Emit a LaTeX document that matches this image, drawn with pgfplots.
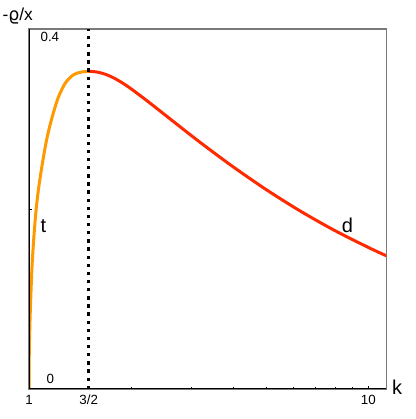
\documentclass[border=0pt]{standalone}
\usepackage{fontspec}
\setmainfont{Liberation Sans}
\newfontfamily\dejavu{DejaVu Sans}
\usepackage{pgfplots}
\pgfplotsset{compat=1.18}
\usetikzlibrary{calc}
\definecolor{curveorange}{HTML}{FF9900}
\definecolor{curvered}{HTML}{FF2A00}
\definecolor{framegray}{HTML}{7A7A7A}

\begin{document}
\begin{tikzpicture}
\begin{axis}[
    name=ax,
    xmode=log,
    scale only axis,
    width=268pt, height=270pt,
    xmin=1, xmax=11.3,
    ymin=0, ymax=0.4,
    axis line style={framegray, line width=0.9pt},
    tick align=inside,
    xtick pos=bottom, ytick pos=left,
    xtick={1,1.5,10},
    xticklabels={1,3/2,10},
    minor xtick={2,3,4,5,6,7,8,9},
    ytick={0.2}, yticklabels={},
    major tick length=2.5pt, minor tick length=1.6pt,
    tick style={black, line width=0.6pt},
    xticklabel style={font=\fontsize{10}{12}\selectfont, anchor=base, yshift=-12pt},
]
% t branch
\addplot[curveorange, line width=2.25pt, smooth] coordinates {
  (1,0) (1.001,0.029) (1.003,0.050) (1.007,0.077) (1.014,0.110)
  (1.022,0.140) (1.035,0.172) (1.05,0.200) (1.07,0.226) (1.10,0.255)
  (1.13,0.279) (1.17,0.302) (1.22,0.324) (1.28,0.340) (1.35,0.349)
  (1.42,0.352) (1.5,0.353)
};
% d branch
\addplot[curvered, line width=2.25pt, smooth] coordinates {
  (1.5,0.353) (1.585,0.3522) (1.679,0.3497) (1.778,0.3456) (1.884,0.3401)
  (1.995,0.3338) (2.239,0.3196) (2.512,0.3048) (3.162,0.2753)
  (3.981,0.2473) (5.012,0.2213) (6.310,0.1976) (7.943,0.1763)
  (10.0,0.1573) (11.3,0.1480)
};
% k = 3/2
\addplot[black, line width=2.5pt, dash pattern=on 2.5pt off 3.6pt] coordinates {
  (1.5,0) (1.5,0.4)
};
\draw[black, line width=1.1pt] (rel axis cs:0,0) -- (rel axis cs:0,1);
\draw[black, line width=1pt] (rel axis cs:0,0) -- (rel axis cs:1,0);
\end{axis}
\node[anchor=base west, inner sep=0, font=\fontsize{13}{15}\selectfont]
  at ($(ax.north west)+(-20pt,6pt)$) {-{\dejavu ϱ}/x};
\node[anchor=base west, inner sep=0, font=\fontsize{15}{18}\selectfont]
  at ($(ax.south east)+(4.2pt,-4.5pt)$) {k};
\node[anchor=base west, inner sep=0, font=\fontsize{10}{12}\selectfont]
  at ($(ax.north west)+(8.5pt,-9.5pt)$) {0.4};
\node[anchor=base west, inner sep=0, font=\fontsize{10}{12}\selectfont]
  at ($(ax.south west)+(13pt,4.3pt)$) {0};
\node[anchor=base west, inner sep=0, font=\fontsize{15}{18}\selectfont]
  at ($(ax.south west)+(8.5pt,117.5pt)$) {t};
\node[anchor=base west, inner sep=0, font=\fontsize{15}{18}\selectfont]
  at ($(ax.south west)+(234.5pt,117.2pt)$) {d};
\path ($(ax.south west)+(-21.75pt,-22.5pt)$) rectangle ($(ax.north east)+(21.75pt,21.75pt)$);
\end{tikzpicture}
\end{document}
